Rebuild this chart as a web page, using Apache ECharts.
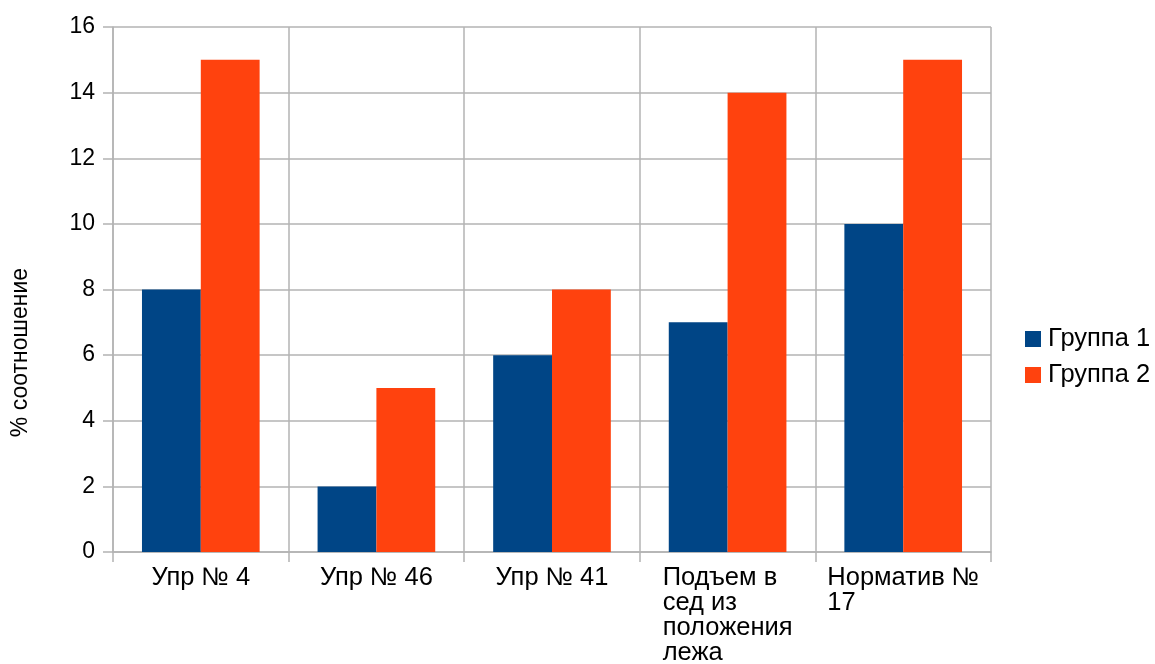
<!DOCTYPE html>
<html>
<head>
<meta charset="utf-8">
<script src="https://cdn.jsdelivr.net/npm/echarts@6/dist/echarts.min.js"></script>
<style>html,body{margin:0;padding:0;background:#fff}#c{width:1155px;height:664px}</style>
</head>
<body>
<div id="c"></div>
<script>
const categories = ['Упр № 4', 'Упр № 46', 'Упр № 41', 'Подъем в\nсед из\nположения\nлежа', 'Норматив №\n17'];
const group1 = [8, 2, 6, 7, 10];
const group2 = [15, 5, 8, 14, 15];
const seriesNames = ['Группа 1', 'Группа 2'];
const yAxisTitle = '% соотношение';

const gridColor = '#b3b3b3';
const font = 'Liberation Sans, Arial, sans-serif';
const chart = echarts.init(document.getElementById('c'));
chart.setOption({
  animation: false,
  backgroundColor: '#fff',
  textStyle: { fontFamily: font },
  grid: { left: 113, right: 164, top: 27, bottom: 112, containLabel: false, outerBoundsMode: 'none' },
  legend: {
    orient: 'vertical', left: 1025, top: 326, padding: 0,
    icon: 'rect', itemWidth: 16, itemHeight: 16, itemGap: 10,
    textStyle: { fontSize: 25.5, color: '#000', lineHeight: 22, padding: [0, 0, 0, 2], fontFamily: font },
    data: seriesNames
  },
  xAxis: {
    type: 'category', data: categories,
    axisLine: { lineStyle: { color: gridColor, width: 1.5 } },
    axisTick: { show: true, length: 10, alignWithLabel: false, lineStyle: { color: gridColor, width: 1.5 } },
    splitLine: { show: true, lineStyle: { color: gridColor, width: 1.5 } },
    axisLabel: {
      interval: 0, margin: 13, color: '#000', fontSize: 25.5, lineHeight: 25, fontFamily: font,
      formatter: function (v) { return v.split('\n').map(function (s) { return '{a|' + s + '}'; }).join('\n'); },
      rich: { a: { align: 'left', fontSize: 25.5, lineHeight: 25, color: '#000', fontFamily: font } }
    }
  },
  yAxis: {
    type: 'value', min: 0, max: 16, interval: 2,
    name: yAxisTitle, nameLocation: 'middle', nameGap: 81, nameRotate: 90,
    nameTextStyle: { fontSize: 23, color: '#000', fontFamily: font, padding: [0, 126, 0, 0] },
    axisLine: { show: true, lineStyle: { color: gridColor, width: 1.5 } },
    axisTick: { show: true, length: 10, lineStyle: { color: gridColor, width: 1.5 } },
    splitLine: { show: true, lineStyle: { color: gridColor, width: 1.5 } },
    axisLabel: { margin: 18, color: '#000', fontSize: 23, fontFamily: font }
  },
  series: [
    { name: seriesNames[0], type: 'bar', data: group1, itemStyle: { color: '#004586' }, barGap: '0%', barCategoryGap: '33%' },
    { name: seriesNames[1], type: 'bar', data: group2, itemStyle: { color: '#ff420e' }, barGap: '0%', barCategoryGap: '33%' }
  ]
});
</script>
</body>
</html>
